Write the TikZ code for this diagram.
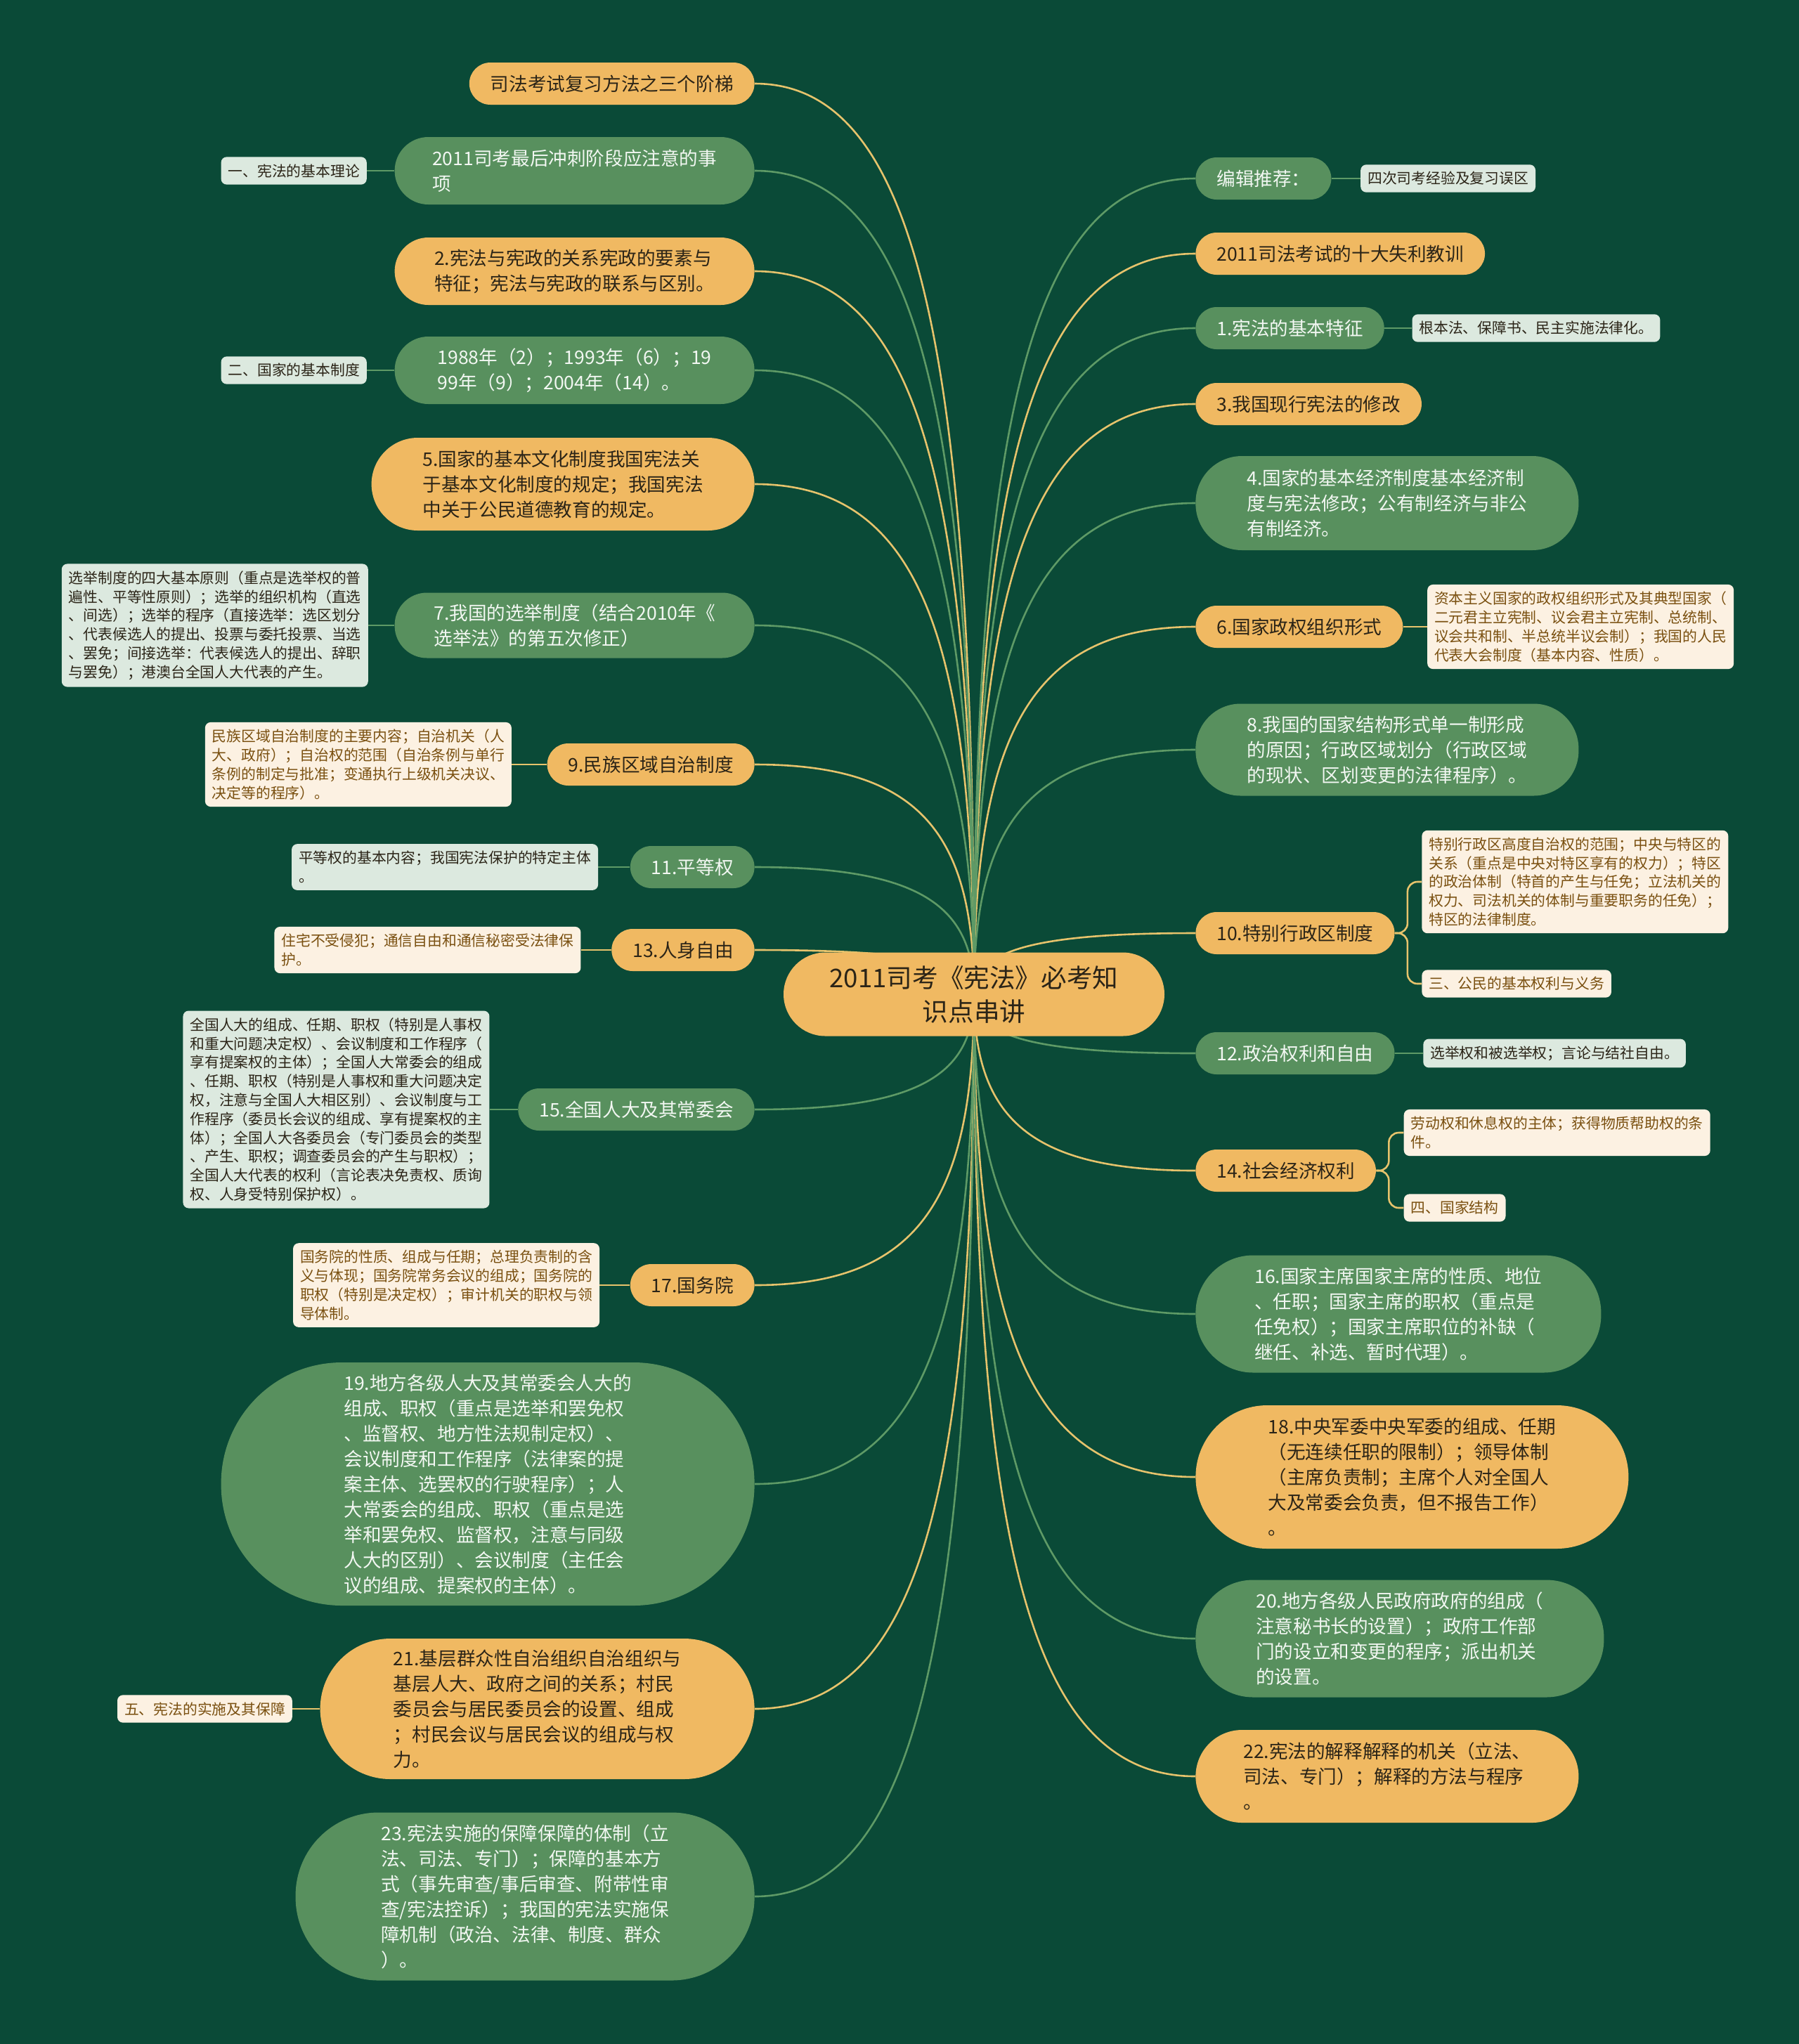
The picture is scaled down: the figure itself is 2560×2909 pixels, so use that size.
\documentclass[tikz,border=0pt]{standalone}
\usepackage{fontspec}
\setmainfont{Noto Sans CJK SC}
\usepackage{tikz}
\usetikzlibrary{positioning,calc}
\pgfdeclarelayer{bg}
\pgfdeclarelayer{edges}
\pgfsetlayers{bg,edges,main}
\definecolor{bgdeep}{HTML}{0A4A37}
\definecolor{leafgreen}{HTML}{58905E}
\definecolor{amber}{HTML}{F0B962}
\definecolor{mint}{HTML}{DCE9DF}
\definecolor{cream}{HTML}{FCF1E2}
\definecolor{umber}{HTML}{7A5010}
\definecolor{ink}{HTML}{2B2417}
\definecolor{paper}{HTML}{F2F7F2}
\definecolor{linkgreen}{HTML}{5E9A66}
\definecolor{linkgold}{HTML}{E6C36C}
\newcommand{\brfont}{\fontsize{13.3pt}{18pt}\selectfont}
\newcommand{\leaffont}{\fontsize{10.4pt}{13.4pt}\selectfont}
\newcommand{\rootfont}{\fontsize{18.3pt}{24pt}\selectfont}
\tikzset{
  branch/.style={rounded corners=15pt,align=left,font=\brfont,inner xsep=15pt,inner ysep=2pt,minimum height=30pt},
  gbranch/.style={branch,fill=leafgreen,text=paper},
  obranch/.style={branch,fill=amber,text=ink},
  leaf/.style={rounded corners=4pt,align=left,font=\leaffont,inner xsep=5pt,inner ysep=5pt},
  gleaf/.style={leaf,fill=mint,text=ink},
  oleaf/.style={leaf,fill=cream,text=umber},
  glink/.style={draw=linkgreen,line width=1.3pt},
  olink/.style={draw=linkgold,line width=1.3pt},
}

\begin{document}
\begin{tikzpicture}[x=0.5pt,y=-0.5pt]
  \useasboundingbox (0,0) rectangle (2560,2909);
  \begin{pgfonlayer}{bg}
    \fill[bgdeep] (0,0) rectangle (2560,2909);
  \end{pgfonlayer}
  % centre
  \node[fill=amber,text=ink,rounded corners=29.75pt,align=center,font=\rootfont,minimum width=271pt,minimum height=59.5pt] (root) at (1386,1415) {2011司考《宪法》必考知\\识点串讲};
  % left side
  \node[obranch,anchor=east] (l1) at (1074,119) {司法考试复习方法之三个阶梯};
  \node[gbranch,anchor=east,minimum width=256pt,minimum height=48pt,rounded corners=24pt] (l2) at (1074,243) {2011司考最后冲刺阶段应注意的事\\项};
  \node[obranch,anchor=east,minimum width=256pt,minimum height=48pt,rounded corners=24pt] (l3) at (1074,386) {2.宪法与宪政的关系宪政的要素与\\特征；宪法与宪政的联系与区别。};
  \node[gbranch,anchor=east,minimum width=256pt,minimum height=48pt,rounded corners=24pt] (l4) at (1074,527) {1988年（2）；1993年（6）；19\\99年（9）；2004年（14）。};
  \node[obranch,anchor=east,minimum width=272.5pt,minimum height=66pt,rounded corners=33pt] (l5) at (1074,689) {5.国家的基本文化制度我国宪法关\\于基本文化制度的规定；我国宪法\\中关于公民道德教育的规定。};
  \node[gbranch,anchor=east,minimum width=256pt,minimum height=46.5pt,rounded corners=23pt] (l6) at (1074,890) {7.我国的选举制度（结合2010年《\\选举法》的第五次修正）};
  \node[obranch,anchor=east] (l7) at (1074,1088) {9.民族区域自治制度};
  \node[gbranch,anchor=east] (l8) at (1074,1234) {11.平等权};
  \node[obranch,anchor=east] (l9) at (1074,1352) {13.人身自由};
  \node[gbranch,anchor=east] (l10) at (1074,1579) {15.全国人大及其常委会};
  \node[obranch,anchor=east] (l11) at (1074,1829) {17.国务院};
  \node[gbranch,anchor=east,minimum width=379.5pt,minimum height=173pt,rounded corners=86pt] (l12) at (1074,2112) {19.地方各级人大及其常委会人大的\\组成、职权（重点是选举和罢免权\\、监督权、地方性法规制定权）、\\会议制度和工作程序（法律案的提\\案主体、选罢权的行驶程序）；人\\大常委会的组成、职权（重点是选\\举和罢免权、监督权，注意与同级\\人大的区别）、会议制度（主任会\\议的组成、提案权的主体）。};
  \node[obranch,anchor=east,minimum width=309pt,minimum height=100pt,rounded corners=50pt] (l13) at (1074,2432) {21.基层群众性自治组织自治组织与\\基层人大、政府之间的关系；村民\\委员会与居民委员会的设置、组成\\；村民会议与居民会议的组成与权\\力。};
  \node[gbranch,anchor=east,minimum width=326.5pt,minimum height=119.5pt,rounded corners=59pt] (l14) at (1074,2699) {23.宪法实施的保障保障的体制（立\\法、司法、专门）；保障的基本方\\式（事先审查/事后审查、附带性审\\查/宪法控诉）；我国的宪法实施保\\障机制（政治、法律、制度、群众\\）。};
  % left leaves
  \node[gleaf,left=19.5pt of l2] (l2a) {一、宪法的基本理论};
  \node[gleaf,left=19.5pt of l4] (l4a) {二、国家的基本制度};
  \node[gleaf,left=18.5pt of l6] (l6a) {选举制度的四大基本原则（重点是选举权的普\\遍性、平等性原则）；选举的组织机构（直选\\、间选）；选举的程序（直接选举：选区划分\\、代表候选人的提出、投票与委托投票、当选\\、罢免；间接选举：代表候选人的提出、辞职\\与罢免）；港澳台全国人大代表的产生。};
  \node[oleaf,left=25pt of l7] (l7a) {民族区域自治制度的主要内容；自治机关（人\\大、政府）；自治权的范围（自治条例与单行\\条例的制定与批准；变通执行上级机关决议、\\决定等的程序）。};
  \node[gleaf,left=22.5pt of l8] (l8a) {平等权的基本内容；我国宪法保护的特定主体\\。};
  \node[oleaf,left=21.5pt of l9] (l9a) {住宅不受侵犯；通信自由和通信秘密受法律保\\护。};
  \node[gleaf,left=20pt of l10] (l10a) {全国人大的组成、任期、职权（特别是人事权\\和重大问题决定权）、会议制度和工作程序（\\享有提案权的主体）；全国人大常委会的组成\\、任期、职权（特别是人事权和重大问题决定\\权，注意与全国人大相区别）、会议制度与工\\作程序（委员长会议的组成、享有提案权的主\\体）；全国人大各委员会（专门委员会的类型\\、产生、职权；调查委员会的产生与职权）；\\全国人大代表的权利（言论表决免责权、质询\\权、人身受特别保护权）。};
  \node[oleaf,left=21.5pt of l11] (l11a) {国务院的性质、组成与任期；总理负责制的含\\义与体现；国务院常务会议的组成；国务院的\\职权（特别是决定权）；审计机关的职权与领\\导体制。};
  \node[oleaf,left=19.5pt of l13] (l13a) {五、宪法的实施及其保障};
  % right side
  \node[gbranch,anchor=west] (r1) at (1701,254) {编辑推荐：};
  \node[obranch,anchor=west] (r2) at (1701,361) {2011司法考试的十大失利教训};
  \node[gbranch,anchor=west] (r3) at (1701,467) {1.宪法的基本特征};
  \node[obranch,anchor=west] (r4) at (1701,575) {3.我国现行宪法的修改};
  \node[gbranch,anchor=west,minimum width=272.5pt,minimum height=67pt,rounded corners=33pt] (r5) at (1701,716) {4.国家的基本经济制度基本经济制\\度与宪法修改；公有制经济与非公\\有制经济。};
  \node[obranch,anchor=west] (r6) at (1701,892) {6.国家政权组织形式};
  \node[gbranch,anchor=west,minimum width=272.5pt,minimum height=65.5pt,rounded corners=32pt] (r7) at (1701,1067) {8.我国的国家结构形式单一制形成\\的原因；行政区域划分（行政区域\\的现状、区划变更的法律程序）。};
  \node[obranch,anchor=west] (r8) at (1701,1328) {10.特别行政区制度};
  \node[gbranch,anchor=west] (r9) at (1701,1499) {12.政治权利和自由};
  \node[obranch,anchor=west] (r10) at (1701,1666) {14.社会经济权利};
  \node[gbranch,anchor=west,minimum width=288.5pt,minimum height=83.5pt,rounded corners=41pt] (r11) at (1701,1870) {16.国家主席国家主席的性质、地位\\、任职；国家主席的职权（重点是\\任免权）；国家主席职位的补缺（\\继任、补选、暂时代理）。};
  \node[obranch,anchor=west,minimum width=308pt,minimum height=102pt,rounded corners=51pt] (r12) at (1701,2102) {18.中央军委中央军委的组成、任期\\（无连续任职的限制）；领导体制\\（主席负责制；主席个人对全国人\\大及常委会负责，但不报告工作）\\。};
  \node[gbranch,anchor=west,minimum width=290.5pt,minimum height=83.5pt,rounded corners=41pt] (r13) at (1701,2332) {20.地方各级人民政府政府的组成（\\注意秘书长的设置）；政府工作部\\门的设立和变更的程序；派出机关\\的设置。};
  \node[obranch,anchor=west,minimum width=272.5pt,minimum height=66pt,rounded corners=33pt] (r14) at (1701,2528) {22.宪法的解释解释的机关（立法、\\司法、专门）；解释的方法与程序\\。};
  % right leaves
  \node[gleaf,right=20.5pt of r1] (r1a) {四次司考经验及复习误区};
  \node[gleaf,right=19.5pt of r3] (r3a) {根本法、保障书、民主实施法律化。};
  \node[oleaf,right=17pt of r6] (r6a) {资本主义国家的政权组织形式及其典型国家（\\二元君主立宪制、议会君主立宪制、总统制、\\议会共和制、半总统半议会制）；我国的人民\\代表大会制度（基本内容、性质）。};
  \node[oleaf,right=19pt of r8,yshift=36.5pt] (r8a) {特别行政区高度自治权的范围；中央与特区的\\关系（重点是中央对特区享有的权力）；特区\\的政治体制（特首的产生与任免；立法机关的\\权力、司法机关的体制与重要职务的任免）；\\特区的法律制度。};
  \node[oleaf,right=19pt of r8,yshift=-36pt] (r8b) {三、公民的基本权利与义务};
  \node[gleaf,right=20pt of r9] (r9a) {选举权和被选举权；言论与结社自由。};
  \node[oleaf,right=19.5pt of r10,yshift=27pt] (r10a) {劳动权和休息权的主体；获得物质帮助权的条\\件。};
  \node[oleaf,right=19.5pt of r10,yshift=-26.5pt] (r10b) {四、国家结构};
  % connectors
  \begin{pgfonlayer}{edges}
    \foreach \n in {l1,l3,l5,l7,l9,l11,l13}
      \draw[olink] (root.center) .. controls ($(root.center)!.7!(root.center |- \n.east)$) and ($(\n.east)!.75!(root.center |- \n.east)$) .. (\n.east);
    \foreach \n in {l2,l4,l6,l8,l10,l12,l14}
      \draw[glink] (root.center) .. controls ($(root.center)!.7!(root.center |- \n.east)$) and ($(\n.east)!.75!(root.center |- \n.east)$) .. (\n.east);
    \foreach \n in {r2,r4,r6,r8,r10,r12,r14}
      \draw[olink] (root.center) .. controls ($(root.center)!.7!(root.center |- \n.west)$) and ($(\n.west)!.75!(root.center |- \n.west)$) .. (\n.west);
    \foreach \n in {r1,r3,r5,r7,r9,r11,r13}
      \draw[glink] (root.center) .. controls ($(root.center)!.7!(root.center |- \n.west)$) and ($(\n.west)!.75!(root.center |- \n.west)$) .. (\n.west);
    \foreach \n in {l2,l4,l6,l8,l10}
      \draw[glink] (\n.west) -- (\n a.east);
    \foreach \n in {l7,l9,l11,l13}
      \draw[olink] (\n.west) -- (\n a.east);
    \foreach \n in {r1,r3,r9}
      \draw[glink] (\n.east) -- (\n a.west);
    \draw[olink] (r6.east) -- (r6a.west);
    \draw[olink,rounded corners=7pt] (r8.east) -- ++(18,0) |- (r8a.west);
    \draw[olink,rounded corners=7pt] (r8.east) -- ++(18,0) |- (r8b.west);
    \draw[olink,rounded corners=7pt] (r10.east) -- ++(18,0) |- (r10a.west);
    \draw[olink,rounded corners=7pt] (r10.east) -- ++(18,0) |- (r10b.west);
  \end{pgfonlayer}
\end{tikzpicture}
\end{document}
